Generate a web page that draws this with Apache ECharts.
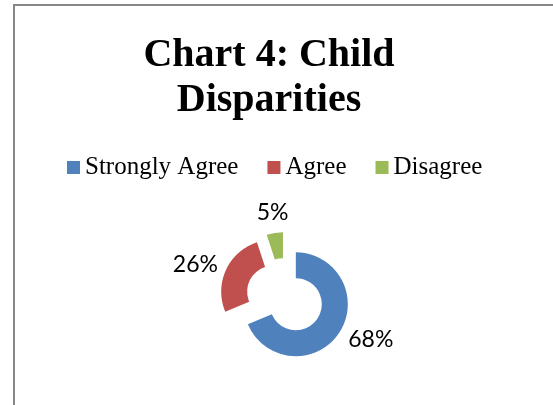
<!DOCTYPE html>
<html>
<head>
<meta charset="utf-8">
<script src="https://cdn.jsdelivr.net/npm/echarts@6/dist/echarts.min.js"></script>
<style>
  html, body { margin: 0; padding: 0; background: #fff; }
  #chart { width: 553px; height: 405px; }
</style>
</head>
<body>
<div id="chart"></div>
<script>
var categories = ['Strongly Agree', 'Agree', 'Disagree'];
var values = [68, 26, 5];
var colors = ['#4F81BD', '#C0504D', '#9BBB59'];

var ChildChart = {
	init : function() {
		var chart = echarts.init(document.getElementById('chart'));
		chart.setOption(ChildChart.buildOption(), true);
	},

	buildOption : function() {
		var pieData = [];
		for (var i = 0; i < categories.length; i++) {
			var item = {
				name : categories[i],
				value : values[i],
				selected : true,
				itemStyle : { color : colors[i] }
			};
			// small slice: label sits above it (Excel best fit)
			if (i == 2) {
				item.labelLine = { show : false, length : 21, length2 : -17 };
			} else if (i == 1) {
				item.labelLine = { show : false, length : 12, length2 : -3 };
			}
			pieData.push(item);
		}
		var option = {
			backgroundColor : '#ffffff',
			animation : false,
			title : {
				text : 'Chart 4: Child\nDisparities',
				left : 269,
				textAlign : 'center',
				top : 33,
				padding : 0,
				textStyle : {
					fontFamily : 'Liberation Serif',
					fontWeight : 'bold',
					fontSize : 40,
					lineHeight : 45,
					color : '#000'
				}
			},
			legend : {
				data : categories,
				left : 67,
				top : 155,
				padding : 0,
				itemGap : 29,
				itemWidth : 13,
				itemHeight : 13,
				icon : 'rect',
				selectedMode : false,
				textStyle : {
					fontFamily : 'Liberation Serif',
					fontSize : 25,
					color : '#000'
				}
			},
			graphic : [ {
				type : 'rect',
				shape : { x : 14, y : 5, width : 600, height : 500 },
				style : { fill : 'none', stroke : '#878787', lineWidth : 2 },
				silent : true
			} ],
			series : [ {
				type : 'pie',
				center : [285, 297],
				radius : [26, 52],
				startAngle : 90,
				clockwise : true,
				selectedMode : 'multiple',
				selectedOffset : 13,
				avoidLabelOverlap : false,
				label : {
					show : true,
					position : 'outside',
					formatter : '{c}%',
					fontFamily : 'Lato',
					fontSize : 23,
					color : '#000',
					distanceToLabelLine : 0
				},
				labelLine : { show : false, length : 11, length2 : 0 },
				emphasis : { disabled : true },
				select : { itemStyle : { borderWidth : 0 } },
				data : pieData
			} ]
		};
		return option;
	}
};
ChildChart.init();
</script>
</body>
</html>
